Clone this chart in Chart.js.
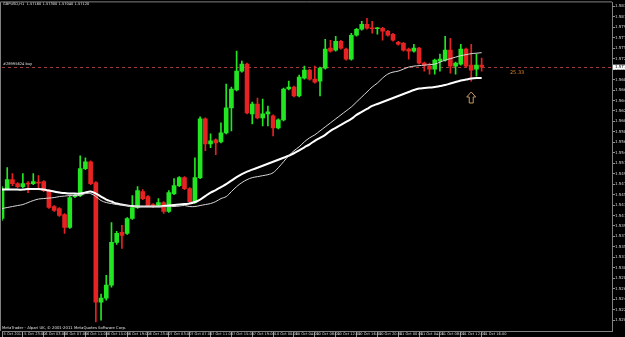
<!DOCTYPE html>
<html>
<head>
<meta charset="utf-8">
<style>
  html, body { margin: 0; padding: 0; background: #000; overflow: hidden; }
</style>
<script src="https://cdn.jsdelivr.net/npm/chart.js@4.4.0/dist/chart.umd.min.js"></script>
</head>
<body>
<canvas id="priceChart" width="625" height="337"></canvas>
<script>
// GBPUSD H1, 5 Oct 19:00 .. 11 Oct 16:00
const opens = [
  1.5408, 1.5468, 1.5486, 1.5478, 1.5472, 1.5478, 1.5478, 1.5480, 1.5482, 1.5464,
  1.5432, 1.5428, 1.5416, 1.5390, 1.5452, 1.5454, 1.5508, 1.5522, 1.5480, 1.5240,
  1.5248, 1.5274, 1.5360, 1.5380, 1.5378, 1.5408, 1.5430, 1.5462, 1.5452, 1.5436,
  1.5434, 1.5440, 1.5422, 1.5458, 1.5474, 1.5490, 1.5468, 1.5440, 1.5490, 1.5608,
  1.5558, 1.5566, 1.5562, 1.5580, 1.5630, 1.5666, 1.5704, 1.5718, 1.5618, 1.5638,
  1.5610, 1.5618, 1.5614, 1.5590, 1.5606, 1.5668, 1.5672, 1.5654, 1.5690, 1.5706,
  1.5688, 1.5684, 1.5710, 1.5750, 1.5746, 1.5764, 1.5748, 1.5728, 1.5776, 1.5788,
  1.5798, 1.5790, 1.5789, 1.5790, 1.5784, 1.5778, 1.5762, 1.5760, 1.5748, 1.5744,
  1.5750, 1.5720, 1.5714, 1.5708, 1.5724, 1.5726, 1.5746, 1.5714, 1.5718, 1.5748,
  1.5716, 1.5708, 1.5716
];
const highs = [
  1.5472, 1.5510, 1.5498, 1.5480, 1.5498, 1.5482, 1.5498, 1.5494, 1.5484, 1.5466,
  1.5434, 1.5430, 1.5418, 1.5454, 1.5458, 1.5534, 1.5530, 1.5524, 1.5482, 1.5256,
  1.5294, 1.5400, 1.5382, 1.5394, 1.5410, 1.5454, 1.5472, 1.5466, 1.5454, 1.5438,
  1.5448, 1.5442, 1.5464, 1.5488, 1.5492, 1.5492, 1.5470, 1.5530, 1.5612, 1.5610,
  1.5578, 1.5568, 1.5600, 1.5678, 1.5672, 1.5744, 1.5724, 1.5720, 1.5642, 1.5650,
  1.5648, 1.5634, 1.5616, 1.5608, 1.5670, 1.5684, 1.5674, 1.5696, 1.5714, 1.5708,
  1.5714, 1.5712, 1.5768, 1.5766, 1.5774, 1.5766, 1.5750, 1.5780, 1.5790, 1.5804,
  1.5810, 1.5804, 1.5792, 1.5792, 1.5786, 1.5780, 1.5764, 1.5762, 1.5750, 1.5758,
  1.5752, 1.5722, 1.5720, 1.5728, 1.5738, 1.5774, 1.5770, 1.5722, 1.5758, 1.5750,
  1.5758, 1.5738, 1.5730
];
const lows = [
  1.5404, 1.5466, 1.5474, 1.5470, 1.5470, 1.5460, 1.5476, 1.5470, 1.5462, 1.5428,
  1.5422, 1.5412, 1.5378, 1.5388, 1.5450, 1.5452, 1.5506, 1.5476, 1.5200, 1.5204,
  1.5244, 1.5270, 1.5356, 1.5348, 1.5376, 1.5406, 1.5428, 1.5446, 1.5432, 1.5430,
  1.5432, 1.5418, 1.5420, 1.5456, 1.5472, 1.5466, 1.5440, 1.5438, 1.5488, 1.5544,
  1.5550, 1.5536, 1.5560, 1.5578, 1.5584, 1.5664, 1.5702, 1.5618, 1.5598, 1.5608,
  1.5594, 1.5594, 1.5574, 1.5588, 1.5604, 1.5666, 1.5652, 1.5652, 1.5688, 1.5686,
  1.5680, 1.5654, 1.5708, 1.5742, 1.5744, 1.5748, 1.5726, 1.5726, 1.5774, 1.5786,
  1.5788, 1.5780, 1.5778, 1.5766, 1.5774, 1.5764, 1.5756, 1.5744, 1.5728, 1.5742,
  1.5718, 1.5704, 1.5698, 1.5698, 1.5704, 1.5724, 1.5700, 1.5698, 1.5716, 1.5712,
  1.5684, 1.5694, 1.5704
];
const closes = [
  1.5468, 1.5486, 1.5478, 1.5472, 1.5478, 1.5477, 1.5482, 1.5479, 1.5464, 1.5430,
  1.5424, 1.5414, 1.5390, 1.5450, 1.5454, 1.5508, 1.5522, 1.5478, 1.5240, 1.5248,
  1.5274, 1.5360, 1.5378, 1.5374, 1.5408, 1.5430, 1.5464, 1.5448, 1.5434, 1.5432,
  1.5440, 1.5422, 1.5460, 1.5474, 1.5490, 1.5468, 1.5442, 1.5490, 1.5608, 1.5558,
  1.5564, 1.5560, 1.5580, 1.5630, 1.5668, 1.5704, 1.5718, 1.5620, 1.5638, 1.5610,
  1.5618, 1.5622, 1.5590, 1.5606, 1.5668, 1.5672, 1.5654, 1.5692, 1.5706, 1.5688,
  1.5682, 1.5710, 1.5748, 1.5744, 1.5764, 1.5750, 1.5728, 1.5776, 1.5788, 1.5798,
  1.5790, 1.5789, 1.5790, 1.5784, 1.5776, 1.5766, 1.5758, 1.5746, 1.5744, 1.5750,
  1.5720, 1.5716, 1.5708, 1.5726, 1.5728, 1.5746, 1.5714, 1.5720, 1.5748, 1.5714,
  1.5706, 1.5716, 1.5712
];
// moving averages (thin = fast, thick = slow)
const maFast = [
  1.5428, 1.5430, 1.5432, 1.5434, 1.5436, 1.5440, 1.5444, 1.5447, 1.5448, 1.5449,
  1.5450, 1.5452, 1.5453, 1.5454, 1.5454, 1.5455, 1.5458, 1.5458, 1.5452, 1.5444,
  1.5440, 1.5438, 1.5436, 1.5435, 1.5434, 1.5433, 1.5432, 1.5432, 1.5432, 1.5432,
  1.5432, 1.5432, 1.5432, 1.5432, 1.5433, 1.5434, 1.5432, 1.5432, 1.5434, 1.5436,
  1.5438, 1.5442, 1.5448, 1.5452, 1.5462, 1.5472, 1.5480, 1.5486, 1.5490, 1.5492,
  1.5494, 1.5496, 1.5500, 1.5510, 1.5522, 1.5534, 1.5544, 1.5552, 1.5562, 1.5570,
  1.5576, 1.5584, 1.5592, 1.5600, 1.5608, 1.5616, 1.5624, 1.5632, 1.5642, 1.5652,
  1.5662, 1.5672, 1.5680, 1.5690, 1.5698, 1.5702, 1.5704, 1.5708, 1.5712, 1.5714,
  1.5715, 1.5716, 1.5717, 1.5718, 1.5722, 1.5726, 1.5729, 1.5732, 1.5735, 1.5737,
  1.5739, 1.5740, 1.5741
];
const maSlow = [
  1.5466, 1.5466, 1.5466, 1.5466, 1.5466, 1.5467, 1.5467, 1.5467, 1.5466, 1.5464,
  1.5462, 1.5460, 1.5459, 1.5458, 1.5458, 1.5458, 1.5460, 1.5462, 1.5458, 1.5452,
  1.5446, 1.5442, 1.5438, 1.5436, 1.5434, 1.5433, 1.5432, 1.5432, 1.5432, 1.5432,
  1.5432, 1.5433, 1.5434, 1.5435, 1.5436, 1.5437, 1.5438, 1.5441, 1.5446, 1.5453,
  1.5460, 1.5465, 1.5471, 1.5477, 1.5484, 1.5491, 1.5497, 1.5502, 1.5506, 1.5510,
  1.5514, 1.5518, 1.5522, 1.5526, 1.5530, 1.5534, 1.5539, 1.5545, 1.5551, 1.5557,
  1.5564, 1.5570, 1.5576, 1.5584, 1.5590, 1.5596, 1.5602, 1.5608, 1.5616, 1.5622,
  1.5628, 1.5634, 1.5638, 1.5642, 1.5646, 1.5650, 1.5654, 1.5658, 1.5662, 1.5666,
  1.5669, 1.5670, 1.5671, 1.5672, 1.5674, 1.5676, 1.5679, 1.5682, 1.5685, 1.5687,
  1.5689, 1.5690, 1.5690
];
// time labels, one every 4 bars
const timeLabels = [
  '5 Oct 2011', '5 Oct 23:00', '6 Oct 03:00', '6 Oct 07:00', '6 Oct 11:00', '6 Oct 15:00',
  '6 Oct 19:00', '6 Oct 23:00', '7 Oct 03:00', '7 Oct 07:00', '7 Oct 11:00', '7 Oct 15:00',
  '7 Oct 19:00', '10 Oct 00:00', '10 Oct 04:00', '10 Oct 08:00', '10 Oct 12:00', '10 Oct 16:00',
  '10 Oct 20:00', '11 Oct 00:00', '11 Oct 04:00', '11 Oct 08:00', '11 Oct 12:00', '11 Oct 16:00'
];
const priceTicks = [
  1.5834, 1.5813, 1.5792, 1.5771, 1.5750, 1.5729, 1.5708, 1.5687, 1.5666, 1.5645,
  1.5624, 1.5603, 1.5582, 1.5561, 1.5540, 1.5519, 1.5498, 1.5477, 1.5456, 1.5435,
  1.5414, 1.5393, 1.5372, 1.5351, 1.5330, 1.5309, 1.5288, 1.5267, 1.5246, 1.5225, 1.5204
];
const totalSlots = 118;      // bars + empty shift space on the right
const orderPrice = 1.5712;
const orderText = '#28995624 buy';
const arrowBar = 90, arrowPrice = 1.5650;
const noteBar = 98, notePrice = 1.5700, noteText = '25.33';

const bull = '#22e622';
const bear = '#e62222';
const txtFont = '"DejaVu Sans", sans-serif';

const labels = Array.from({ length: totalSlots }, (_, i) =>
  (i % 4 === 0 && timeLabels[i / 4]) ? timeLabels[i / 4] : '');
const candleColor = c => closes[c.dataIndex] >= opens[c.dataIndex] ? bull : bear;

const ctx = document.getElementById('priceChart').getContext('2d');

// frame of the chart window
const frame = {
  id: 'frame',
  beforeDraw(chart) {
    const { ctx, chartArea: { left, top, right, bottom } } = chart;
    ctx.save();
    ctx.fillStyle = '#000';
    ctx.fillRect(0, 0, chart.width, chart.height);
    ctx.strokeStyle = '#808080';
    ctx.lineWidth = 1;
    ctx.beginPath();
    ctx.moveTo(left - 1.5, bottom);
    ctx.lineTo(left - 1.5, top - 0.5);
    ctx.lineTo(right, top - 0.5);
    ctx.stroke();
    ctx.restore();
  },
  beforeDatasetsDraw(chart) {
    const { ctx, chartArea: { left, right }, scales: { y } } = chart;
    const py = Math.round(y.getPixelForValue(orderPrice)) + 0.5;
    ctx.save();
    ctx.strokeStyle = 'rgba(190,70,70,0.85)';
    ctx.setLineDash([3, 3]);
    ctx.beginPath();
    ctx.moveTo(left, py);
    ctx.lineTo(right, py);
    ctx.stroke();
    ctx.restore();
  }
};

// texts and objects drawn over the chart
const overlay = {
  id: 'overlay',
  afterDraw(chart) {
    const { ctx, chartArea: { left, right, bottom }, scales: { x, y } } = chart;
    const last = closes.length - 1;
    ctx.save();
    ctx.textBaseline = 'middle';
    ctx.textAlign = 'left';
    ctx.fillStyle = '#e0e0e0';
    ctx.font = '3.6px ' + txtFont;
    ctx.fillText('GBPUSD,H1  ' + [opens[last], highs[last], lows[last], closes[last]].map(v => v.toFixed(5)).join(' '), left + 1, 4);
    const py = y.getPixelForValue(orderPrice);
    ctx.fillText(orderText, left + 1, py - 3);
    ctx.font = '3.8px ' + txtFont;
    ctx.fillText('MetaTrader - Alpari UK, \u00a9 2001-2011 MetaQuotes Software Corp.', left, bottom - 3);

    // note text
    ctx.fillStyle = '#d9822b';
    ctx.font = '5px ' + txtFont;
    ctx.fillText(noteText, x.getPixelForValue(noteBar) - 3, y.getPixelForValue(notePrice));

    // up arrow object
    const ax = x.getPixelForValue(arrowBar);
    const ay = y.getPixelForValue(arrowPrice);
    ctx.strokeStyle = '#c99a62';
    ctx.lineWidth = 1;
    ctx.beginPath();
    ctx.moveTo(ax, ay - 6);
    ctx.lineTo(ax + 4.5, ay - 1);
    ctx.lineTo(ax + 2, ay - 1);
    ctx.lineTo(ax + 2, ay + 5);
    ctx.lineTo(ax - 2, ay + 5);
    ctx.lineTo(ax - 2, ay - 1);
    ctx.lineTo(ax - 4.5, ay - 1);
    ctx.closePath();
    ctx.stroke();

    // current price box on the price axis
    ctx.fillStyle = '#ffffff';
    ctx.fillRect(right + 1, py - 2.5, 20, 5);
    ctx.fillStyle = '#000';
    ctx.font = '4px ' + txtFont;
    ctx.fillText(closes[last].toFixed(5), right + 3, py);
    ctx.restore();
  }
};

new Chart(ctx, {
  type: 'bar',
  data: {
    labels: labels,
    datasets: [
      {
        type: 'line',
        label: 'MA fast',
        data: maFast,
        borderColor: '#d8d8d8',
        borderWidth: 1,
        pointRadius: 0,
        tension: 0.4,
        order: 0
      },
      {
        type: 'line',
        label: 'MA slow',
        data: maSlow,
        borderColor: '#ffffff',
        borderWidth: 2,
        pointRadius: 0,
        tension: 0.4,
        order: 0
      },
      {
        label: 'bodies',
        data: opens.map((o, i) => [o, closes[i]]),
        backgroundColor: candleColor,
        barThickness: 4,
        minBarLength: 1,
        grouped: false,
        borderSkipped: false,
        order: 1
      },
      {
        label: 'wicks',
        data: lows.map((l, i) => [l, highs[i]]),
        backgroundColor: candleColor,
        barThickness: 1,
        grouped: false,
        borderSkipped: false,
        order: 2
      }
    ]
  },
  options: {
    responsive: false,
    animation: false,
    events: [],
    layout: { padding: { left: 2, top: 1, right: 0, bottom: 0 } },
    plugins: {
      legend: { display: false },
      tooltip: { enabled: false },
      title: { display: false }
    },
    scales: {
      x: {
        type: 'category',
        offset: false,
        grid: {
          offset: false,
          drawOnChartArea: false,
          drawTicks: true,
          tickLength: 6,
          color: c => (c.index % 4 === 0 && c.index < closes.length) ? '#909090' : 'transparent'
        },
        border: { color: '#808080' },
        ticks: {
          autoSkip: false,
          maxRotation: 0,
          minRotation: 0,
          align: 'start',
          labelOffset: 1.5,
          padding: -5,
          color: '#d8d8d8',
          font: { size: 3.6, family: txtFont },
          callback: (v, i) => labels[i]
        },
        afterFit(scale) { scale.height = 6; }
      },
      y: {
        position: 'right',
        min: 1.5182,
        max: 1.5842,
        grid: {
          drawOnChartArea: false,
          drawTicks: true,
          tickLength: 3,
          color: '#909090'
        },
        border: { color: '#808080' },
        ticks: {
          autoSkip: false,
          padding: 0,
          color: '#d8d8d8',
          font: { size: 4, family: txtFont },
          callback: v => v.toFixed(5)
        },
        afterBuildTicks(scale) {
          scale.ticks = priceTicks.map(v => ({ value: v }));
        },
        afterFit(scale) { scale.width = 13; }
      }
    }
  },
  plugins: [frame, overlay]
});
</script>
</body>
</html>
